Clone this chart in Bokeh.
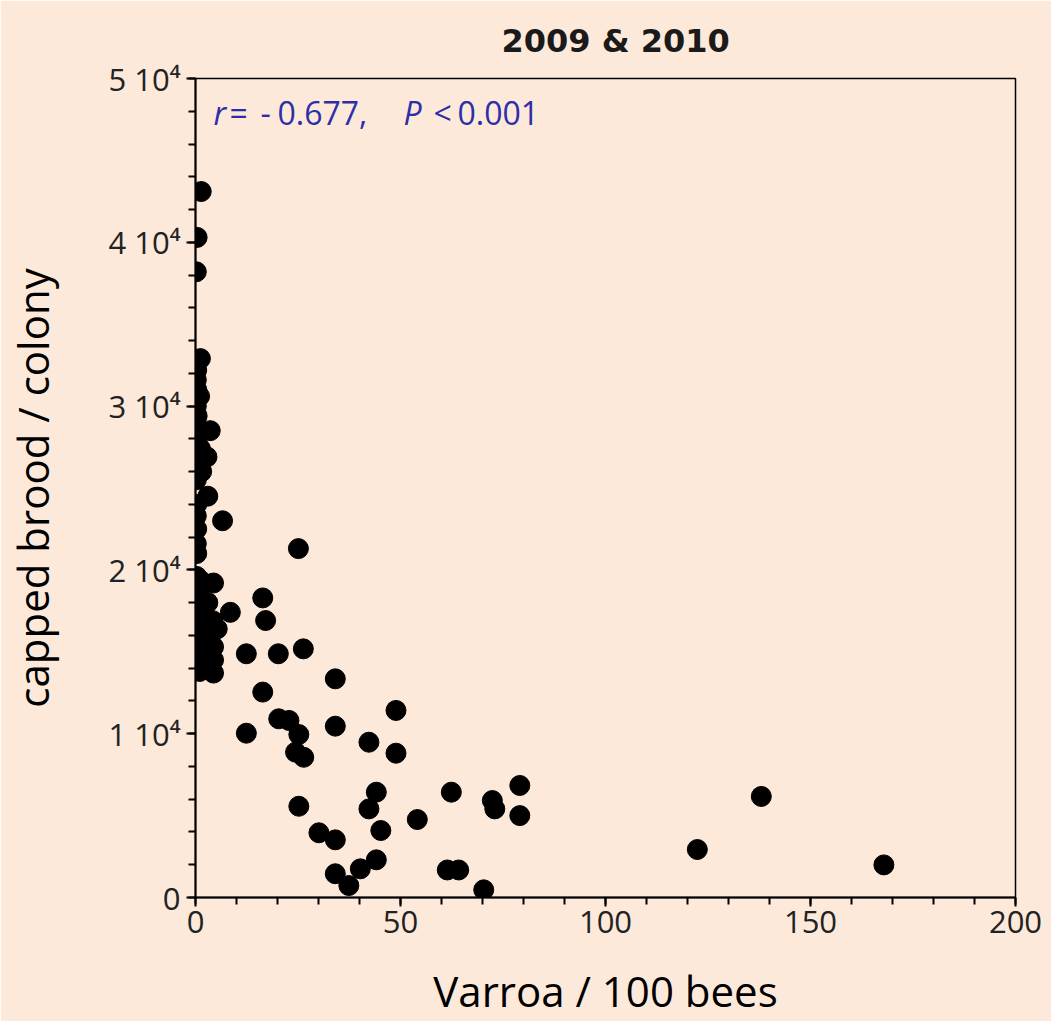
from bokeh.plotting import figure
from bokeh.models import (SingleIntervalTicker, CustomJSTickFormatter, Range1d, Label,
                          ColumnDataSource)
from bokeh.embed import file_html
from bokeh.resources import INLINE

# Varroa / 100 bees
varroa = [
    1.4, 0.4, 0.2,
    1.2, 0.3, 0.2, 0.3, 1.0, 0.2, 0.4, 3.6, 0.2, 0.3, 1.2, 0.2, 0.4, 1.5, 0.2,
    2.8, 3.0, 0.3, 0.2, 0.3, 0.2, 0.3, 6.6, 0.3, 1.5, 4.4, 0.2, 1.0, 3.0, 0.3,
    2.0, 0.5, 4.2, 1.5, 5.3, 0.3, 2.5, 4.4, 0.3, 1.5, 4.4, 0.5, 2.5, 4.4, 1.0,
    25.1,
    16.4, 8.5, 17.1, 12.4, 20.2, 26.3, 34.1, 16.4, 48.9, 20.3, 22.8, 34.1, 12.4,
    25.2, 42.3, 24.4, 26.4, 48.9, 44.1, 42.3, 25.2, 54.1, 30.1, 34.1, 45.2, 44.1,
    40.2, 34.1, 37.4,
    62.4, 72.4, 73.0, 79.1, 79.1, 61.4, 64.2, 70.3, 138.0, 122.4, 167.9,
]
# capped brood / colony
brood = [
    43100, 40300, 38200,
    32900, 32200, 31600, 31000, 30600, 30000, 29400, 28500, 28800, 27900, 27400,
    27000, 26400, 26000, 25500,
    26900, 24500, 24000, 23300, 22500, 21600, 21000, 23000, 19600, 19300, 19200,
    18800, 18400, 18000, 17800, 17300, 17000, 16900, 16500, 16400, 16100, 15800,
    15300, 15200, 14800, 14500, 14300, 14000, 13700, 13800,
    21300,
    18290, 17410, 16910, 14880, 14880, 15180, 13350, 12540, 11420, 10910, 10810,
    10460, 10030, 9950, 9480, 8870, 8560, 8810, 6430, 5410, 5570, 4760, 3950,
    3520, 4090, 2300, 1750, 1450, 730,
    6430, 5920, 5410, 6840, 5000, 1680, 1680, 470, 6170, 2930, 1990,
]

title_text = "2009 & 2010"
x_label = "Varroa / 100 bees"
y_label = "capped brood / colony"
# statistics annotation, split into pieces (italic r and P)
stat_parts = ["r", "=", "-", "0.677,", "P", "<", "0.001"]
stat_styles = ["italic", "normal", "normal", "normal", "italic", "normal", "normal"]
stat_offsets = [18, 34, 65, 82, 208, 238, 262]

BG = "#FDE9DA"
FONT = "Open Sans"

p = figure(width=1051, height=1021, output_backend="svg", toolbar_location=None,
           x_range=Range1d(0, 200), y_range=Range1d(0, 50000),
           min_border_left=195, min_border_right=36, min_border_top=78,
           min_border_bottom=124, title=title_text)

p.background_fill_color = BG
p.border_fill_color = BG
p.outline_line_color = "black"
p.outline_line_width = 1.5
p.grid.visible = False

p.title.align = "left"
p.title.offset = 306
p.title.standoff = 37
p.title.text_line_height = 0.9
p.title.text_font = "DejaVu Sans"
p.title.text_font_style = "bold"
p.title.text_font_size = "32px"
p.title.text_color = "#1a1a1a"

src = ColumnDataSource(dict(x=varroa, y=brood))
p.scatter("x", "y", source=src, size=20, color="black")

p.xaxis.ticker = SingleIntervalTicker(interval=50, num_minor_ticks=5)
p.yaxis.ticker = SingleIntervalTicker(interval=10000, num_minor_ticks=5)
p.yaxis.formatter = CustomJSTickFormatter(
    code="return tick == 0 ? '0' : (tick / 10000).toFixed(0) + ' 10\u2074';")

for ax in (p.xaxis[0], p.yaxis[0]):
    ax.axis_line_width = 2
    ax.axis_line_color = "black"
    ax.major_tick_line_width = 2
    ax.minor_tick_line_width = 2
    ax.major_tick_in = 0
    ax.major_tick_out = 9
    ax.minor_tick_in = 0
    ax.minor_tick_out = 7
    ax.major_label_text_font = FONT
    ax.major_label_text_font_size = "31px"
    ax.major_label_text_color = "#222222"
    ax.axis_label_text_font = FONT
    ax.axis_label_text_font_size = "42px"
    ax.axis_label_text_font_style = "normal"
    ax.axis_label_text_color = "black"

p.xaxis.axis_label = x_label
p.yaxis.axis_label = y_label
p.xaxis.major_label_standoff = 4
p.xaxis.axis_label_standoff = 26
p.yaxis.major_label_standoff = 6
p.yaxis.axis_label_standoff = 44

for txt, off, st in zip(stat_parts, stat_offsets, stat_styles):
    p.add_layout(Label(x=0, y=47900, x_offset=off, text=txt, text_font=FONT,
                       text_font_size="32px", text_font_style=st,
                       text_color="#2E2EA8", text_baseline="middle"))

open("out.html", "w").write(file_html(p, INLINE))
